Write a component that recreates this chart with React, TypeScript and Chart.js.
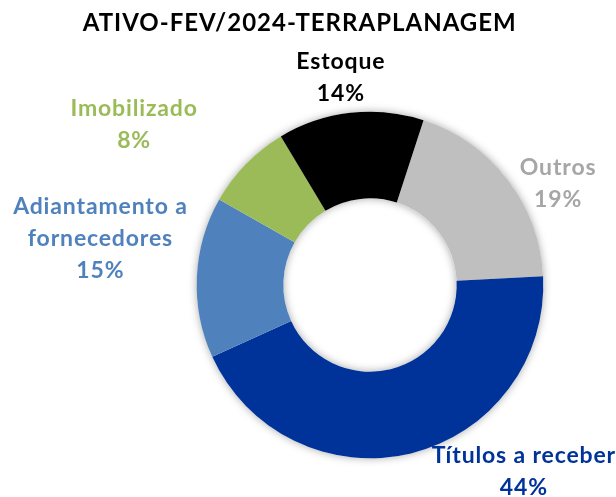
import React, { useEffect, useRef } from "react";
import { Chart, registerables } from "chart.js";

Chart.register(...registerables);

const TITLE = "ATIVO-FEV/2024-TERRAPLANAGEM";
const categories = ["Outros", "Títulos a receber", "Adiantamento a fornecedores", "Imobilizado", "Estoque"];
const values = [19.2, 44.0, 15.0, 8.2, 13.6];
const sliceColors = ["#BFBFBF", "#003399", "#4F81BD", "#9BBB59", "#000000"];
const textColors = ["#A6A6A6", "#003399", "#4F81BD", "#9BBB59", "#000000"];
// label lines (name split as in the reference) and block placement
const labelLines = [
  ["Outros"],
  ["Títulos a receber"],
  ["Adiantamento a", "fornecedores"],
  ["Imobilizado"],
  ["Estoque"],
];
const labelAnchors = [
  [557.7, 175],
  [523.5, 463.3],
  [100, 214.3],
  [133.7, 116],
  [340.5, 69.3],
];

const FONT = "Lato, 'Open Sans', sans-serif";

export default function App() {
  const ref = useRef<HTMLCanvasElement | null>(null);
  useEffect(() => {
    if (!ref.current) return;
    const total = values.reduce((a, b) => a + b, 0);
    const shadowPlugin = {
      id: "ringShadow",
      beforeDatasetsDraw(chart: any) {
        const arc = chart.getDatasetMeta(0).data[0];
        if (!arc) return;
        const ctx = chart.ctx;
        ctx.save();
        ctx.shadowColor = "rgba(0,0,0,0.35)";
        ctx.shadowBlur = 9;
        ctx.fillStyle = "#ffffff";
        ctx.beginPath();
        ctx.arc(arc.x, arc.y, arc.outerRadius, 0, Math.PI * 2);
        ctx.arc(arc.x, arc.y, arc.innerRadius, 0, Math.PI * 2, true);
        ctx.fill();
        ctx.restore();
      },
    };
    const labelPlugin = {
      id: "labels",
      afterDraw(chart: any) {
        const ctx = chart.ctx;
        ctx.save();
        ctx.textAlign = "center";
        ctx.textBaseline = "alphabetic";
        ctx.fillStyle = "#000";
        ctx.font = `bold 24px ${FONT}`;
        (ctx as any).letterSpacing = "1px";
        ctx.fillText(TITLE, 299.7, 31);
        ctx.font = `bold 23px ${FONT}`;
        (ctx as any).letterSpacing = "0.85px";
        values.forEach((v, i) => {
          const pct = Math.round((v / total) * 100) + "%";
          const lines = [...labelLines[i], pct];
          const [x, y] = labelAnchors[i];
          ctx.fillStyle = textColors[i];
          lines.forEach((l, j) => ctx.fillText(l, x + 0.4, y + j * 32));
        });
        ctx.restore();
      },
    };
    const chart = new Chart(ref.current, {
      type: "doughnut",
      data: {
        labels: categories,
        datasets: [
          {
            data: values,
            backgroundColor: sliceColors,
            borderWidth: 0,
          },
        ],
      },
      options: {
        animation: false,
        responsive: false,
        rotation: 18,
        cutout: "50%",
        layout: { padding: { left: 196.7, right: 72.7, top: 111.7, bottom: 38.7 } },
        plugins: { legend: { display: false }, tooltip: { enabled: false }, title: { display: false } },
      },
      plugins: [shadowPlugin, labelPlugin],
    });
    return () => chart.destroy();
  }, []);
  return (
    <div style={{ position: "absolute", left: 0, top: 0, width: 616, height: 497, background: "#fff" }}>
      <canvas ref={ref} width={616} height={497} />
    </div>
  );
}
